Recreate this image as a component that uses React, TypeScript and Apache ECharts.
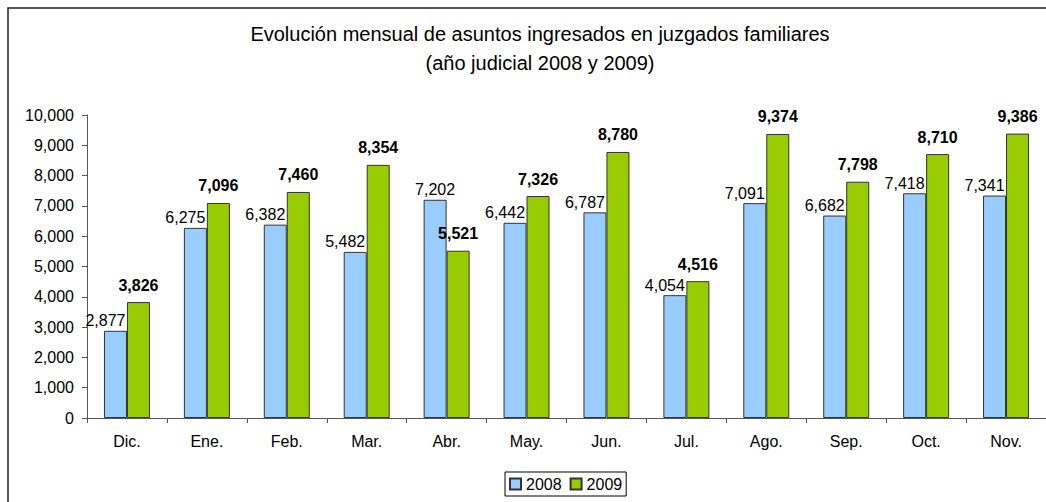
import React, { useEffect, useRef } from "react";
import * as echarts from "echarts";

const categories = ["Dic.", "Ene.", "Feb.", "Mar.", "Abr.", "May.", "Jun.", "Jul.", "Ago.", "Sep.", "Oct.", "Nov."];
const values2008 = [2877, 6275, 6382, 5482, 7202, 6442, 6787, 4054, 7091, 6682, 7418, 7341];
const values2009 = [3826, 7096, 7460, 8354, 5521, 7326, 8780, 4516, 9374, 7798, 8710, 9386];
const seriesNames = ["2008", "2009"];
const titleText = "Evolución mensual de asuntos ingresados en juzgados familiares\n(año judicial 2008 y 2009)";

const FONT = "'Liberation Sans', Arial, sans-serif";
const fmt = (v: number) => v.toLocaleString("en-US");

export default function App() {
  const ref = useRef<HTMLDivElement>(null);
  useEffect(() => {
    if (!ref.current) return;
    const chart = echarts.init(ref.current, undefined, { renderer: "svg" });
    const data2008 = values2008.map((v, i) => ({
      value: v,
      label: { offset: [v > values2009[i] ? 0 : -10, 0] },
    }));
    chart.setOption({
      animation: false,
      backgroundColor: "#ffffff",
      textStyle: { fontFamily: FONT },
      title: {
        text: titleText,
        left: 535,
        top: 14,
        textAlign: "center",
        textStyle: { fontFamily: FONT, fontSize: 20, fontWeight: "normal", color: "#000", lineHeight: 29 },
      },
      graphic: [
        {
          type: "rect",
          shape: { x: 8, y: 8, width: 1100, height: 600 },
          style: { fill: "none", stroke: "#222", lineWidth: 1.5 },
          silent: true,
        },
      ],
      legend: {
        data: seriesNames,
        left: 505,
        top: 472,
        itemWidth: 11,
        itemHeight: 11,
        itemGap: 8,
        padding: [4, 4],
        borderColor: "#000",
        borderWidth: 1,
        borderRadius: 0,
        textStyle: { fontFamily: FONT, fontSize: 16, color: "#000" },
        icon: "rect",
      },
      grid: { left: 87, top: 115, width: 960, height: 303, containLabel: false },
      xAxis: {
        type: "category",
        data: categories,
        axisLine: { lineStyle: { color: "#555", width: 1 } },
        axisTick: { show: true, length: 5, alignWithLabel: false, lineStyle: { color: "#555" } },
        axisLabel: { fontFamily: FONT, fontSize: 16, color: "#000", margin: 15 },
      },
      yAxis: {
        type: "value",
        min: 0,
        max: 10000,
        interval: 1000,
        splitLine: { show: false },
        axisLine: { show: true, lineStyle: { color: "#555", width: 1 } },
        axisTick: { show: true, length: 5, lineStyle: { color: "#555" } },
        axisLabel: { fontFamily: FONT, fontSize: 16, color: "#000", margin: 13, formatter: (v: number) => fmt(v) },
      },
      series: [
        {
          name: seriesNames[0],
          type: "bar",
          data: data2008,
          barWidth: 23,
          barGap: "0%",
          itemStyle: { color: "#99CCFF", borderColor: "#333", borderWidth: 1 },
          label: {
            show: true,
            position: "top",
            distance: 2,
            fontFamily: FONT,
            fontSize: 16,
            color: "#000",
            formatter: (p: any) => fmt(p.value),
          },
        },
        {
          name: seriesNames[1],
          type: "bar",
          data: values2009,
          barWidth: 23,
          barGap: "0%",
          itemStyle: { color: "#99CC00", borderColor: "#333", borderWidth: 1 },
          label: {
            show: true,
            position: "top",
            distance: 9,
            fontFamily: FONT,
            fontSize: 16,
            fontWeight: "bold",
            color: "#000",
            formatter: (p: any) => fmt(p.value),
          },
        },
      ],
    });
    return () => chart.dispose();
  }, []);
  return <div ref={ref} style={{ position: "fixed", left: 0, top: 0, width: 1046, height: 502 }} />;
}
